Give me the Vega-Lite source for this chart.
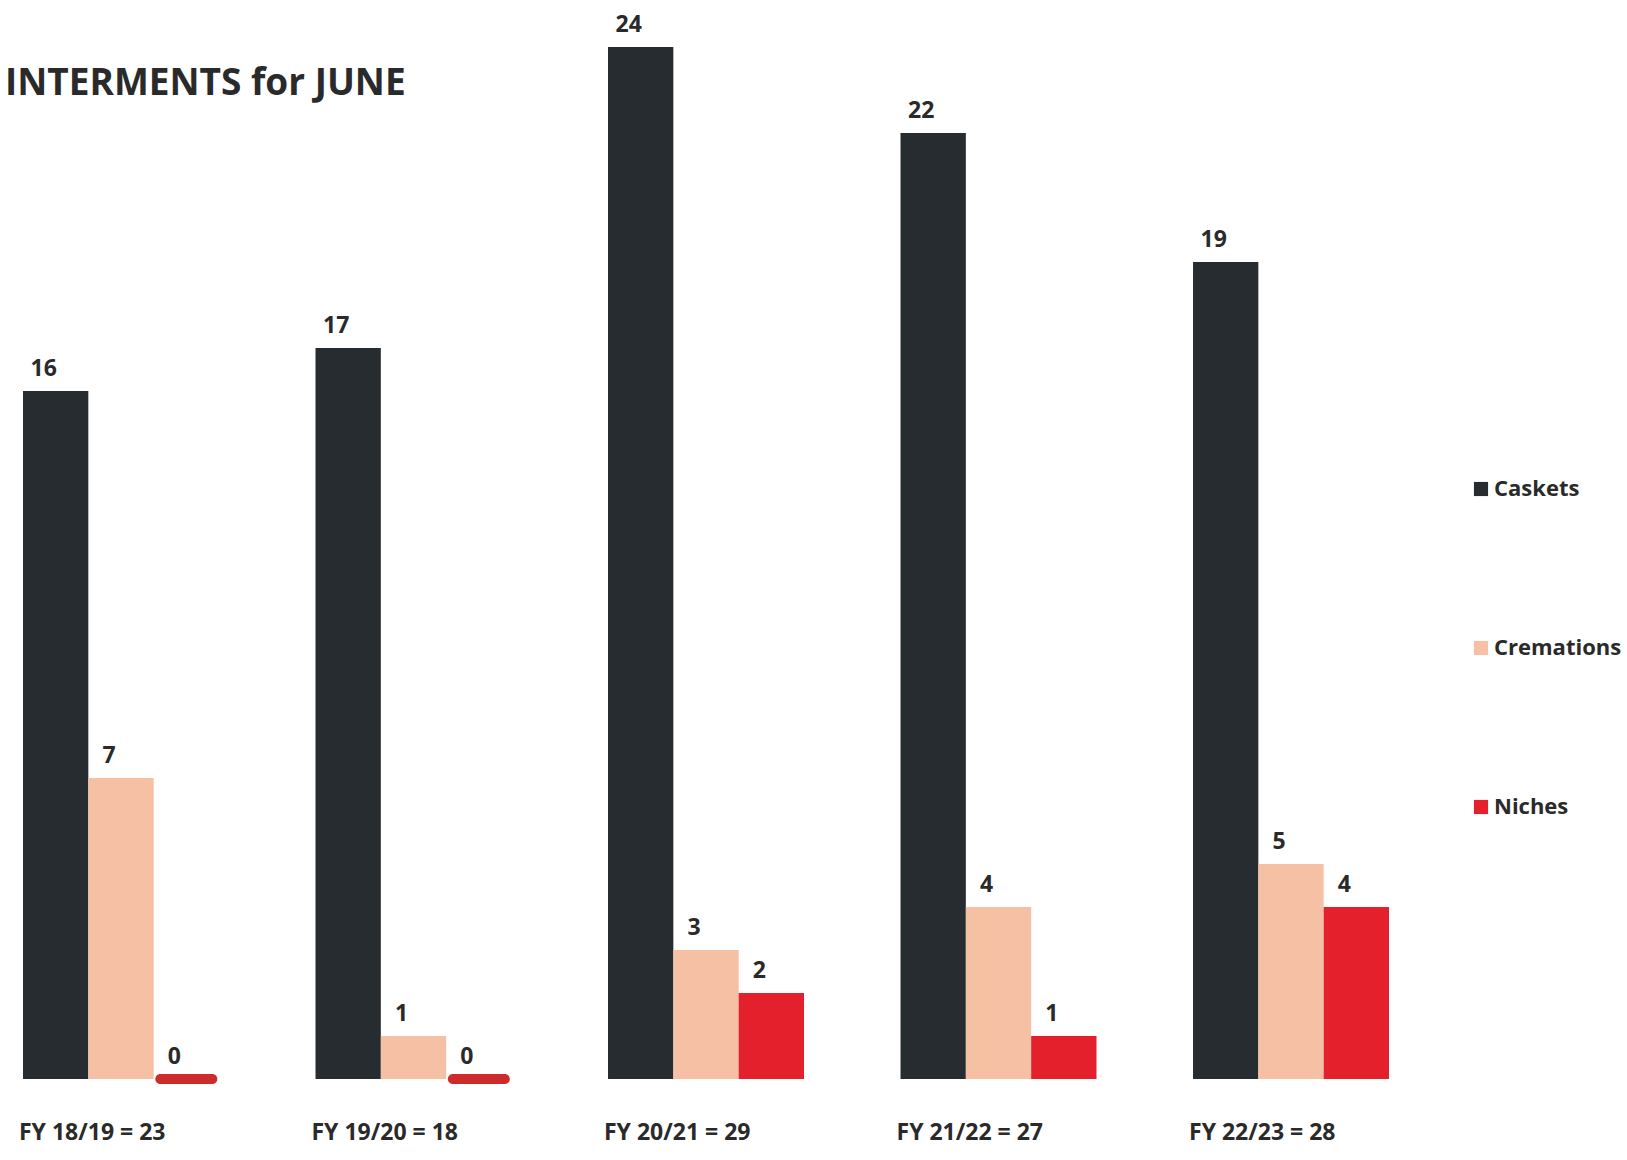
{
  "$schema": "https://vega.github.io/schema/vega-lite/v6.json",
  "width": 1366,
  "height": 1032,
  "autosize": {"type": "none"},
  "padding": {"left": 23, "top": 47, "right": 238, "bottom": 81},
  "background": "#ffffff",
  "view": {"stroke": null},
  "title": {
    "text": "INTERMENTS for JUNE",
    "anchor": "start",
    "frame": "group",
    "orient": "top",
    "offset": 0,
    "dx": -18,
    "dy": 89,
    "font": "Open Sans",
    "fontSize": 37,
    "fontWeight": "bold",
    "color": "#2a2a2a"
  },
  "data": {
    "values": [
      {"year": "FY 18/19 = 23", "type": "Caskets", "count": 16},
      {"year": "FY 18/19 = 23", "type": "Cremations", "count": 7},
      {"year": "FY 18/19 = 23", "type": "Niches", "count": 0},
      {"year": "FY 19/20 = 18", "type": "Caskets", "count": 17},
      {"year": "FY 19/20 = 18", "type": "Cremations", "count": 1},
      {"year": "FY 19/20 = 18", "type": "Niches", "count": 0},
      {"year": "FY 20/21 = 29", "type": "Caskets", "count": 24},
      {"year": "FY 20/21 = 29", "type": "Cremations", "count": 3},
      {"year": "FY 20/21 = 29", "type": "Niches", "count": 2},
      {"year": "FY 21/22 = 27", "type": "Caskets", "count": 22},
      {"year": "FY 21/22 = 27", "type": "Cremations", "count": 4},
      {"year": "FY 21/22 = 27", "type": "Niches", "count": 1},
      {"year": "FY 22/23 = 28", "type": "Caskets", "count": 19},
      {"year": "FY 22/23 = 28", "type": "Cremations", "count": 5},
      {"year": "FY 22/23 = 28", "type": "Niches", "count": 4}
    ]
  },
  "encoding": {
    "x": {
      "field": "year",
      "type": "nominal",
      "sort": null,
      "scale": {"paddingInner": 0.33, "paddingOuter": 0},
      "axis": {
        "title": null,
        "domain": false,
        "ticks": false,
        "grid": false,
        "labelAngle": 0,
        "labelAlign": "left",
        "labelBaseline": "top",
        "labelOffset": -102,
        "labelPadding": 42,
        "labelFont": "Open Sans",
        "labelFontSize": 23,
        "labelFontWeight": "bold",
        "labelColor": "#2a2a2a"
      }
    },
    "xOffset": {
      "field": "type",
      "type": "nominal",
      "sort": ["Caskets", "Cremations", "Niches"],
      "scale": {"paddingInner": 0, "paddingOuter": 0}
    },
    "y": {
      "field": "count",
      "type": "quantitative",
      "scale": {"domain": [0, 24], "nice": false, "zero": true},
      "axis": null
    },
    "color": {
      "field": "type",
      "type": "nominal",
      "sort": ["Caskets", "Cremations", "Niches"],
      "scale": {
        "domain": ["Caskets", "Cremations", "Niches"],
        "range": ["#262c30", "#f5c0a4", "#e3202b"]
      },
      "legend": {
        "title": null,
        "orient": "none",
        "legendX": 1447,
        "legendY": 431,
        "symbolType": "square",
        "symbolSize": 200,
        "symbolStrokeWidth": 0,
        "symbolOpacity": 1,
        "labelFont": "Open Sans",
        "labelFontSize": 22,
        "labelFontWeight": "bold",
        "labelColor": "#2a2a2a",
        "labelOffset": 2,
        "rowPadding": 137
      }
    }
  },
  "layer": [
    {
      "mark": {"type": "bar"}
    },
    {
      "transform": [{"filter": "datum.count === 0"}],
      "mark": {"type": "tick", "orient": "horizontal", "thickness": 10, "cornerRadius": 5, "opacity": 1},
      "encoding": {
        "size": {"value": 62},
        "color": {"value": "#cf2a2c"}
      }
    },
    {
      "mark": {
        "type": "text",
        "baseline": "bottom",
        "dy": -10,
        "dx": -12,
        "font": "Open Sans",
        "fontSize": 23,
        "fontWeight": "bold"
      },
      "encoding": {
        "text": {"field": "count", "type": "quantitative"},
        "color": {"value": "#2a2a2a"}
      }
    }
  ]
}
